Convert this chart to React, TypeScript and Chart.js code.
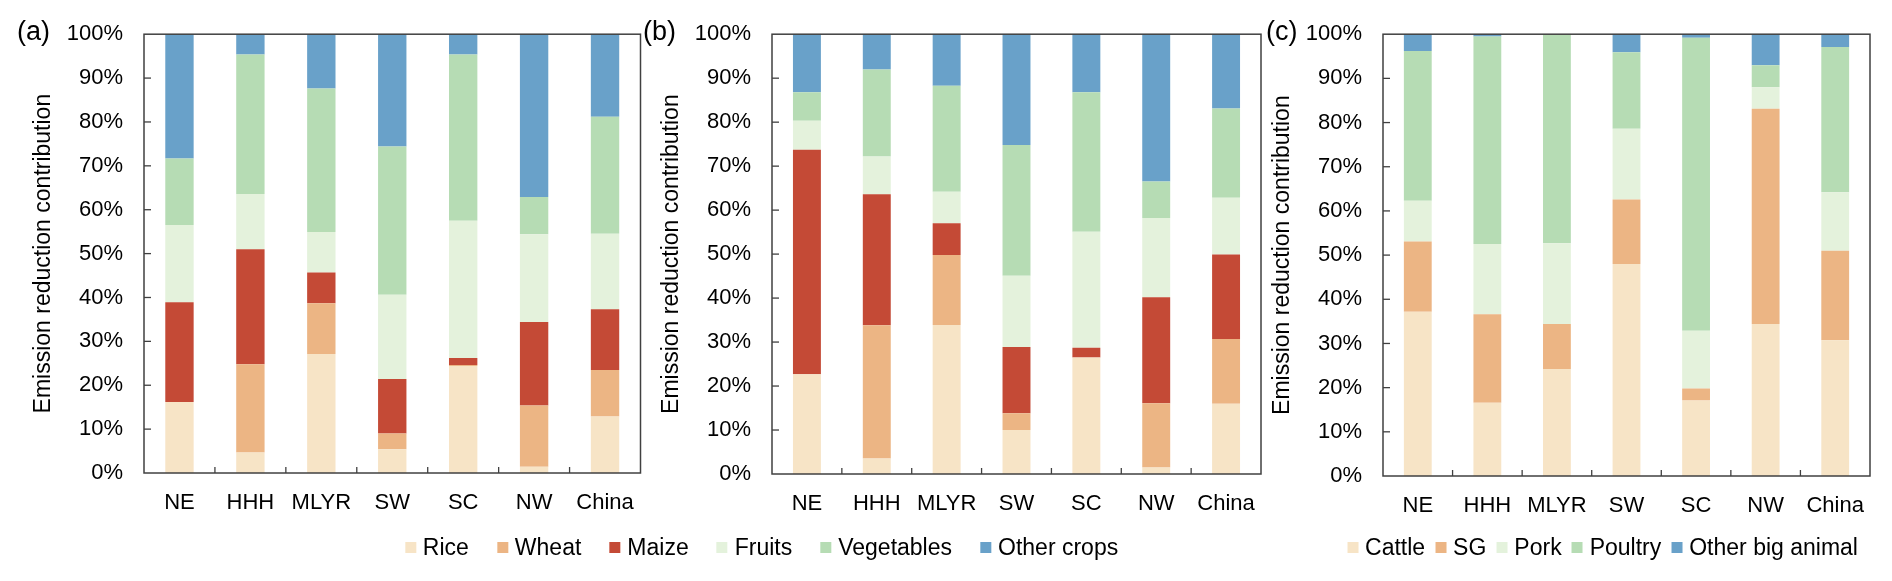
import React, { useEffect, useRef } from 'react';
import { Chart, registerables } from 'chart.js';
Chart.register(...registerables);

// ---------- data ----------
const regions = ['NE', 'HHH', 'MLYR', 'SW', 'SC', 'NW', 'China'];
const cropNames = ['Rice', 'Wheat', 'Maize', 'Fruits', 'Vegetables', 'Other crops'];
const livestockNames = ['Cattle', 'SG', 'Pork', 'Poultry', 'Other big animal'];
const yTickValues = [0, 10, 20, 30, 40, 50, 60, 70, 80, 90, 100];
const yTitle = 'Emission reduction contribution';

// panel (a)
const riceA = [16.2, 4.7, 27.1, 5.4, 24.4, 1.4, 12.9];
const wheatA = [0, 20.1, 11.6, 3.6, 0.2, 14.0, 10.6];
const maizeA = [22.7, 26.2, 7.0, 12.4, 1.6, 19.0, 13.8];
const fruitsA = [17.6, 12.6, 9.2, 19.2, 31.3, 20.0, 17.2];
const vegA = [15.2, 31.8, 32.7, 33.8, 37.9, 8.5, 26.7];
const otherA = [28.3, 4.6, 12.4, 25.6, 4.6, 37.1, 18.8];

// panel (b)
const riceB = [22.7, 3.5, 33.9, 10.0, 26.5, 1.5, 16.0];
const wheatB = [0, 30.3, 15.9, 3.8, 0, 14.6, 14.7];
const maizeB = [51.0, 29.8, 7.2, 15.1, 2.2, 24.1, 19.2];
const fruitsB = [6.6, 8.6, 7.2, 16.2, 26.4, 18.0, 12.9];
const vegB = [6.5, 19.8, 24.1, 29.7, 31.7, 8.3, 20.3];
const otherB = [13.2, 8.0, 11.7, 25.2, 13.2, 33.5, 16.9];

// panel (c)
const cattleC = [37.2, 16.6, 24.2, 48.0, 17.1, 34.4, 30.7];
const sgC = [15.9, 20.0, 10.2, 14.6, 2.7, 48.7, 20.3];
const porkC = [9.2, 15.9, 18.3, 16.0, 13.1, 4.9, 13.2];
const poultryC = [33.9, 47.0, 47.3, 17.3, 66.3, 5.0, 32.9];
const otherC = [3.8, 0.5, 0.0, 4.1, 0.8, 7.0, 2.9];

// ---------- styles ----------
const cropColors = ['#F7E4C6', '#ECB584', '#C44A36', '#E4F2DC', '#B6DCB4', '#69A1C9'];
const livestockColors = ['#F7E4C6', '#ECB584', '#E4F2DC', '#B6DCB4', '#69A1C9'];
const FONT_FAMILY = '"Liberation Sans", Arial, Helvetica, sans-serif';
const H = 581;

type PanelCfg = {
  label: string;
  canvasLeft: number;
  canvasWidth: number;
  plotLeft: number;
  plotRight: number;
  plotTop: number;
  plotBottom: number;
  labelX: number;
  names: string[];
  colors: string[];
  series: number[][];
};

const panels: PanelCfg[] = [
  {
    label: '(a)', canvasLeft: 0, canvasWidth: 660, plotLeft: 144, plotRight: 640.5,
    plotTop: 30, plotBottom: 473, labelX: 17,
    names: cropNames, colors: cropColors,
    series: [riceA, wheatA, maizeA, fruitsA, vegA, otherA],
  },
  {
    label: '(b)', canvasLeft: 628, canvasWidth: 655, plotLeft: 772, plotRight: 1261,
    plotTop: 31.5, plotBottom: 474, labelX: 643,
    names: cropNames, colors: cropColors,
    series: [riceB, wheatB, maizeB, fruitsB, vegB, otherB],
  },
  {
    label: '(c)', canvasLeft: 1239, canvasWidth: 650, plotLeft: 1383, plotRight: 1870,
    plotTop: 32, plotBottom: 476, labelX: 1266,
    names: livestockNames, colors: livestockColors,
    series: [cattleC, sgC, porkC, poultryC, otherC],
  },
];

const framePlugin = {
  id: 'panelFrame',
  afterDatasetsDraw(chart: any, _args: any, opts: any) {
    const { ctx, chartArea, scales } = chart;
    const { left, right, top, bottom } = chartArea;
    ctx.save();
    ctx.strokeStyle = '#404040';
    ctx.lineWidth = 1.5;
    ctx.strokeRect(left, top, right - left, bottom - top);
    ctx.lineWidth = 1.3;
    const y = scales.y;
    y.ticks.forEach((_t: any, i: number) => {
      const py = y.getPixelForTick(i);
      if (py > top + 1 && py < bottom - 1) {
        ctx.beginPath();
        ctx.moveTo(left, py);
        ctx.lineTo(left + 7, py);
        ctx.stroke();
      }
    });
    const x = scales.x;
    const n = chart.data.labels.length;
    for (let i = 1; i < n; i++) {
      const px = (x.getPixelForValue(i - 1) + x.getPixelForValue(i)) / 2;
      ctx.beginPath();
      ctx.moveTo(px, bottom);
      ctx.lineTo(px, bottom - 6);
      ctx.stroke();
    }
    ctx.fillStyle = '#000';
    ctx.font = `27px ${FONT_FAMILY}`;
    ctx.textAlign = 'left';
    ctx.textBaseline = 'middle';
    ctx.fillText(opts.label, opts.labelX, 33);
    ctx.restore();
  },
};

function Panel({ cfg }: { cfg: PanelCfg }) {
  const ref = useRef<HTMLCanvasElement>(null);
  useEffect(() => {
    const font = { family: FONT_FAMILY, size: 22, lineHeight: 1.2 };
    const titleFont = { family: FONT_FAMILY, size: 23, lineHeight: 1.2 };
    const yAxisWidth = cfg.plotLeft - cfg.canvasLeft;
    const chart = new Chart(ref.current as HTMLCanvasElement, {
      type: 'bar',
      data: {
        labels: regions,
        datasets: cfg.series.map((values, i) => ({
          label: cfg.names[i],
          data: values,
          backgroundColor: cfg.colors[i],
          borderWidth: 0,
          barPercentage: 0.4,
          categoryPercentage: 1,
        })),
      },
      options: {
        responsive: false,
        animation: false,
        devicePixelRatio: 1,
        layout: {
          padding: {
            left: 0,
            top: cfg.plotTop,
            right: cfg.canvasLeft + cfg.canvasWidth - cfg.plotRight,
            bottom: 0,
          },
        },
        plugins: {
          legend: { display: false },
          tooltip: { enabled: false },
          panelFrame: { label: cfg.label, labelX: cfg.labelX - cfg.canvasLeft },
        } as any,
        scales: {
          x: {
            stacked: true,
            offset: true,
            grid: { display: false, drawTicks: false },
            border: { display: false },
            ticks: { font, color: '#000', padding: 17, maxRotation: 0, autoSkip: false },
            afterFit: (s: any) => { s.height = H - cfg.plotBottom; },
          },
          y: {
            stacked: true,
            min: 0,
            max: 100,
            afterBuildTicks: (s: any) => { s.ticks = yTickValues.map((v) => ({ value: v })); },
            grid: { display: false, drawTicks: false },
            border: { display: false },
            ticks: { font, color: '#000', padding: 21, callback: (v: any) => `${v}%` },
            title: {
              display: true,
              text: yTitle,
              font: titleFont,
              color: '#000',
              padding: { top: 30.2, bottom: 0 },
            },
            afterFit: (s: any) => { s.width = yAxisWidth; },
          },
        },
      },
      plugins: [framePlugin],
    });
    return () => chart.destroy();
  }, []);
  return (
    <canvas
      ref={ref}
      width={cfg.canvasWidth}
      height={H}
      style={{ position: 'absolute', left: cfg.canvasLeft, top: 0, width: cfg.canvasWidth, height: H }}
    />
  );
}

function Legend({ names, colors, center, gap }: { names: string[]; colors: string[]; center: number; gap: number }) {
  return (
    <div
      style={{
        position: 'absolute',
        left: center,
        top: 534,
        transform: 'translateX(-50%)',
        display: 'flex',
        alignItems: 'center',
        whiteSpace: 'nowrap',
        fontFamily: FONT_FAMILY,
        fontSize: 23,
        lineHeight: '27px',
        color: '#000',
        columnGap: gap,
      }}
    >
      {names.map((n, i) => (
        <div key={n} style={{ display: 'flex', alignItems: 'center' }}>
          <span style={{ display: 'inline-block', width: 11, height: 11, background: colors[i], marginRight: 7 }} />
          <span>{n}</span>
        </div>
      ))}
    </div>
  );
}

export default function App() {
  return (
    <div style={{ position: 'absolute', left: 0, top: 0, width: 1892, height: H, overflow: 'hidden', background: '#fff' }}>
      {panels.map((p) => (
        <Panel key={p.label} cfg={p} />
      ))}
      <Legend names={cropNames} colors={cropColors} center={761.5} gap={28} />
      <Legend names={livestockNames} colors={livestockColors} center={1602.5} gap={10} />
    </div>
  );
}
